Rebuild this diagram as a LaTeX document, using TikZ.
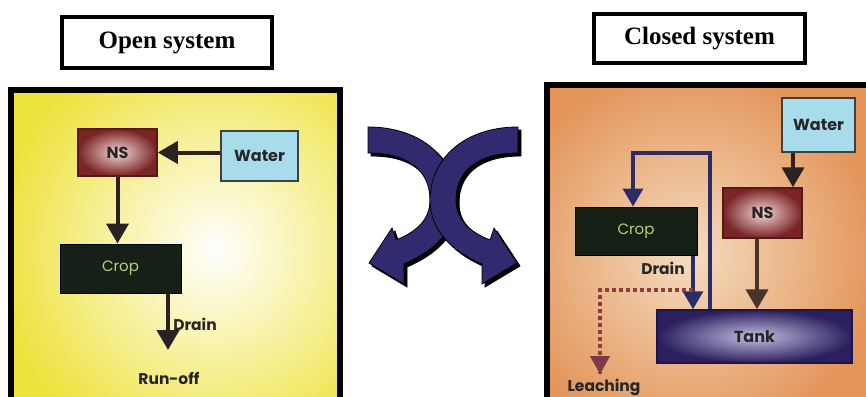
\documentclass[tikz,border=0pt]{standalone}
\usepackage{fontspec}
\setmainfont{Liberation Serif}
\newfontfamily\dfont{Poppins}
\usetikzlibrary{arrows.meta}
\definecolor{ylw}{HTML}{EEE23C}
\definecolor{org}{HTML}{E3955A}
\definecolor{orglight}{HTML}{F4DCC0}
\definecolor{nsdark}{HTML}{7A2424}
\definecolor{nslight}{HTML}{F2D8D8}
\definecolor{tankdark}{HTML}{2B1F5E}
\definecolor{tanklight}{HTML}{C4BCE0}
\definecolor{cropc}{HTML}{162016}
\definecolor{croptext}{HTML}{B5D46A}
\definecolor{waterc}{HTML}{A8DCEA}
\definecolor{arrdark}{HTML}{2A2222}
\definecolor{navy}{HTML}{2D2D66}
\definecolor{dotc}{HTML}{8E3E3E}
\definecolor{xarr}{HTML}{302B6E}
\definecolor{txtdark}{HTML}{262626}
\begin{document}
\begin{tikzpicture}[x=1pt,y=-1pt,
  titlebox/.style={draw=black, line width=4pt, fill=white, inner sep=0pt,
    font=\fontsize{25}{29}\selectfont\bfseries},
  lbl/.style={font=\dfont\bfseries\fontsize{15.5}{18}\selectfont, text=txtdark, inner sep=0pt},
  nsbox/.style={draw=nsdark!70!black, line width=1.5pt, inner color=nslight, outer color=nsdark,
    minimum width=79pt, minimum height=47pt, inner sep=0pt,
    font=\dfont\bfseries\fontsize{16}{18}\selectfont, text=txtdark},
  waterbox/.style={draw=black!75, line width=2pt, fill=waterc,
    minimum width=77pt, minimum height=50pt, inner sep=0pt,
    font=\dfont\bfseries\fontsize{16}{18}\selectfont, text=txtdark},
  cropbox/.style={draw=black, line width=1pt, fill=cropc,
    minimum width=121pt, minimum height=49pt, inner sep=0pt,
    font=\dfont\fontsize{15}{17}\selectfont, text=croptext},
  tankbox/.style={draw=tankdark!70!black, line width=1.5pt, inner color=tanklight, outer color=tankdark,
    minimum width=195pt, minimum height=53pt, inner sep=0pt,
    font=\dfont\bfseries\fontsize{16}{18}\selectfont, text=txtdark},
  flow/.style={line width=4pt, -{Triangle[width=22pt,length=20pt]}},
  frame/.style={draw=black, line width=6pt},
  curvarrow/.pic={
    \filldraw[fill=#1, draw=black, line width=0.8pt]
      (368,127) .. controls (423,127) and (456,160) .. (456,200)
      .. controls (456,232) and (432,252) .. (404,264)
      -- (404,284) -- (369,263) -- (392,228) -- (396,240)
      .. controls (416,232) and (430,220) .. (430,200)
      .. controls (430,172) and (410,153) .. (368,153) -- cycle;
  }]
\useasboundingbox (0,0) rectangle (866,396);
\fill[white] (0,0) rectangle (866,396);
\begin{scope}
\clip (0,0) rectangle (866,396);

% ---------- left panel ----------
\begin{scope}
  \clip (11,90) rectangle (340,420);
  \fill[ylw] (11,90) rectangle (340,420);
  \shade[inner color=white, outer color=ylw] (215,250) circle (220);
\end{scope}
\draw[frame] (11,430) -- (11,90) -- (340,90) -- (340,430);

\node[titlebox, minimum width=210pt, minimum height=51pt] (t1) at (167,42.5) {Open system};

\node[nsbox] (ns1) at (117.5,152.5) {NS};
\node[waterbox] (w1) at (259.5,156) {Water};
\node[cropbox] (c1) at (120.5,268.5) {Crop};
\coordinate (ro) at (168,350);
\node[lbl] (dr1) at (195,324) {Drain};
\node[lbl] (ro1) at (169,378) {Run-off};

\draw[flow, arrdark] (w1.west |- ns1.east) -- (ns1.east);
\draw[flow, arrdark] (ns1.south) -- (ns1.south |- c1.north);
\draw[flow, arrdark] (c1.south -| ro) -- (ro);

% ---------- crossing arrows ----------
\pic at (3,3) {curvarrow=black};
\pic {curvarrow=xarr};
\pic[xscale=-1] at (889,3) {curvarrow=black};
\pic[xscale=-1] at (886,0) {curvarrow=xarr};

% ---------- right panel ----------
\begin{scope}
  \clip (547,85) rectangle (880,420);
  \fill[org] (547,85) rectangle (880,420);
  \shade[inner color=orglight, outer color=org] (690,255) circle (190);
\end{scope}
\draw[frame] (547,430) -- (547,85) -- (880,85);

\node[titlebox, minimum width=211pt, minimum height=49pt] (t2) at (699.5,38.5) {Closed system};

\node[waterbox, minimum width=73pt, minimum height=54pt] (w2) at (818.5,125) {Water};
\node[nsbox, minimum height=50pt] (ns2) at (762.5,213) {NS};
\node[cropbox, minimum width=122pt, minimum height=48pt] (c2) at (636,231) {Crop};
\node[tankbox] (tk) at (754.5,336.5) {Tank};

\coordinate (wx) at (793,0);
\coordinate (nx) at (757,0);
\coordinate (r1) at (710,153);
\coordinate (r2) at (633,153);
\coordinate (dx) at (693,0);
\coordinate (d1) at (693,290);
\coordinate (d2) at (600,290);
\coordinate (d3) at (600,374);

\draw[flow, arrdark] (w2.south -| wx) -- (ns2.north -| wx);
\draw[flow, arrdark!80!brown] (ns2.south -| nx) -- (tk.north -| nx);
\draw[flow, navy, line width=3.5pt, -{Triangle[width=20pt,length=18pt]}]
  (tk.north -| r1) -- (r1) -- (r2) -- (c2.north -| r2);
\draw[flow, navy, line width=3.5pt, -{Triangle[width=20pt,length=18pt]}]
  (c2.south -| dx) -- (tk.north -| dx);
\draw[dotc, line width=4pt, dash pattern=on 4pt off 3pt] (d1) -- (d2) -- (d3);
\draw[dotc!80!navy, line width=0.1pt, -{Triangle[width=20pt,length=18pt]}] (600,360) -- (d3);

\node[lbl] (dr2) at (663,268) {Drain};
\node[lbl] (le) at (604,387) {Leaching};
\end{scope}
\end{tikzpicture}
\end{document}
